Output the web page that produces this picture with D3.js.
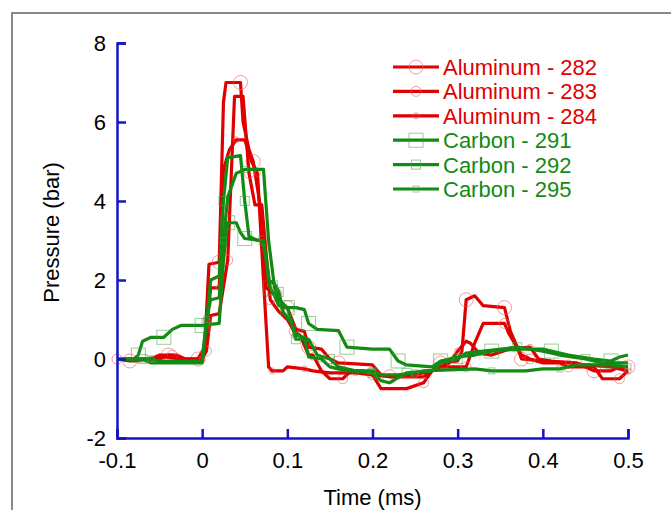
<!DOCTYPE html>
<html>
<head>
<meta charset="utf-8">
<script src="https://cdn.jsdelivr.net/npm/d3@7"></script>
<style>
  body { margin: 0; background: #fff; }
  svg { display: block; font-family: 'Liberation Sans', Arial, sans-serif; }
</style>
</head>
<body>
<div id="chart"></div>
<script>
// [time (ms), pressure (bar)]
const al282 = [[-0.1,0],[-0.085,-0.05],[-0.07,0],[-0.05,0],[-0.04,0.1],[-0.03,0.1],[-0.02,0],[-0.005,0],[0.003,0.3],[0.008,2.4],[0.02,2.45],[0.025,6.5],[0.028,7.0],[0.045,7.0],[0.048,6.0],[0.055,5.3],[0.06,5.0],[0.068,3.9],[0.075,1.8],[0.085,1.65],[0.09,1.6],[0.095,1.3],[0.1,1.3],[0.11,0.75],[0.12,0.7],[0.125,0.3],[0.14,0.25],[0.15,0],[0.16,-0.1],[0.2,-0.15],[0.21,-0.4],[0.22,-0.45],[0.26,-0.45],[0.27,-0.3],[0.28,-0.1],[0.3,-0.05],[0.305,0.2],[0.31,1.5],[0.32,1.6],[0.33,1.35],[0.355,1.3],[0.362,0.7],[0.37,0.3],[0.375,0],[0.4,-0.05],[0.44,-0.1],[0.46,-0.3],[0.48,-0.3],[0.49,-0.2],[0.5,-0.2]]
const al283 = [[-0.1,0],[-0.06,0],[-0.05,0.1],[-0.035,0.1],[-0.03,0],[0,0],[0.005,0.2],[0.01,1.1],[0.02,1.15],[0.03,2.5],[0.038,6.65],[0.048,6.65],[0.055,4.7],[0.062,3.9],[0.07,3.9],[0.08,1.5],[0.09,1.2],[0.1,1.0],[0.108,0.7],[0.115,0.6],[0.125,0.1],[0.13,0.1],[0.14,-0.3],[0.15,-0.5],[0.165,-0.5],[0.175,-0.3],[0.19,-0.3],[0.2,-0.4],[0.21,-0.75],[0.24,-0.75],[0.26,-0.6],[0.27,-0.3],[0.28,-0.2],[0.31,-0.2],[0.32,0.4],[0.33,0.9],[0.355,0.9],[0.36,0.65],[0.375,0.1],[0.385,0],[0.4,-0.1],[0.42,-0.1],[0.43,-0.2],[0.46,-0.2],[0.47,-0.5],[0.49,-0.5],[0.5,-0.3]]
const al284 = [[-0.1,0],[-0.08,-0.05],[-0.06,0],[-0.045,0.05],[-0.02,0],[0,0],[0.003,0.3],[0.01,1.8],[0.02,1.8],[0.025,4.8],[0.032,5.3],[0.04,5.55],[0.05,5.55],[0.058,5.0],[0.065,4.7],[0.072,2.0],[0.078,-0.2],[0.082,-0.3],[0.095,-0.3],[0.1,-0.2],[0.12,-0.25],[0.13,-0.3],[0.15,-0.35],[0.18,-0.35],[0.2,-0.4],[0.22,-0.45],[0.25,-0.4],[0.27,-0.3],[0.29,-0.1],[0.3,0.2],[0.31,0.45],[0.315,0.4],[0.325,0.15],[0.34,0.1],[0.36,0.25],[0.385,0.3],[0.395,0],[0.41,-0.05],[0.43,-0.1],[0.45,-0.15],[0.48,-0.2],[0.5,-0.3]]
const c291 = [[-0.1,0],[-0.08,0],[-0.075,0.1],[-0.07,0.45],[-0.06,0.55],[-0.045,0.55],[-0.035,0.75],[-0.025,0.85],[0,0.85],[0.02,0.9],[0.025,2.5],[0.03,3.45],[0.04,3.45],[0.045,3.2],[0.05,3.05],[0.07,3.0],[0.075,2.6],[0.08,1.8],[0.085,1.6],[0.09,1.35],[0.1,1.3],[0.11,1.3],[0.12,1.25],[0.125,0.9],[0.135,0.75],[0.16,0.72],[0.17,0.3],[0.2,0.25],[0.22,0.25],[0.23,-0.05],[0.24,-0.15],[0.27,-0.2],[0.28,-0.05],[0.3,0.05],[0.32,0.1],[0.34,0.2],[0.37,0.25],[0.4,0.25],[0.41,0.2],[0.43,0.1],[0.46,0],[0.48,-0.05],[0.49,0.05],[0.5,0.1]]
const c292 = [[-0.1,0],[-0.07,0],[-0.06,-0.1],[0,-0.1],[0.005,0.9],[0.01,2.0],[0.02,2.1],[0.025,4.0],[0.03,5.1],[0.045,5.15],[0.05,4.0],[0.055,3.1],[0.065,3.0],[0.072,3.0],[0.078,2.0],[0.085,1.9],[0.09,1.7],[0.095,1.2],[0.105,0.9],[0.11,0.5],[0.125,0.5],[0.135,0.1],[0.15,0],[0.16,-0.2],[0.18,-0.3],[0.2,-0.35],[0.21,-0.55],[0.22,-0.6],[0.24,-0.35],[0.27,-0.3],[0.28,-0.1],[0.3,0],[0.31,0.15],[0.33,0.2],[0.37,0.3],[0.4,0.2],[0.42,0.1],[0.45,0],[0.47,-0.1],[0.5,-0.1]]
const c295 = [[-0.1,0],[-0.06,0],[-0.05,-0.05],[0,-0.05],[0.005,1.0],[0.01,1.5],[0.02,1.55],[0.025,3.0],[0.03,4.1],[0.04,4.7],[0.05,4.8],[0.072,4.8],[0.078,3.0],[0.085,1.8],[0.09,1.5],[0.1,1.3],[0.11,0.6],[0.12,0.55],[0.125,0.05],[0.14,0],[0.15,-0.2],[0.17,-0.3],[0.2,-0.3],[0.21,-0.4],[0.23,-0.4],[0.25,-0.35],[0.26,-0.3],[0.32,-0.25],[0.34,-0.3],[0.38,-0.3],[0.4,-0.25],[0.42,-0.25],[0.44,-0.15],[0.48,-0.15],[0.5,-0.2]]

const seriesNames = ['Aluminum - 282', 'Aluminum - 283', 'Aluminum - 284', 'Carbon - 291', 'Carbon - 292', 'Carbon - 295']
const seriesData = [al282, al283, al284, c291, c292, c295]
const xTicks = [-0.1, 0, 0.1, 0.2, 0.3, 0.4, 0.5]
const yTicks = [-2, 0, 2, 4, 6, 8]

;(function () {
  const svgWidth = 671
  const svgHeight = 510
  const margin = { top: 43, right: 43, bottom: 72, left: 117 }
  const width = svgWidth - margin.left - margin.right
  const height = svgHeight - margin.top - margin.bottom
  const fontSize = '22px'

  const red = '#e00000'
  const green = '#138a13'
  const axisColor = '#1414c8'

  // marker per series: shape + size
  const markers = [
    { shape: 'circle', size: 7, line: red, mark: 'rgba(235,90,90,0.6)', start: 1 },
    { shape: 'circle', size: 5, line: red, mark: 'rgba(235,90,90,0.6)', start: 3 },
    { shape: 'circle', size: 3, line: red, mark: 'rgba(235,90,90,0.6)', start: 2 },
    { shape: 'square', size: 14, line: green, mark: 'rgba(70,160,70,0.55)', start: 2 },
    { shape: 'square', size: 9, line: green, mark: 'rgba(70,160,70,0.55)', start: 4 },
    { shape: 'square', size: 6, line: green, mark: 'rgba(70,160,70,0.55)', start: 1 },
  ]

  // keep the plain hyphen the original uses for negatives
  const tickFmt = d => String(d)

  const svg = d3
    .select('#chart')
    .append('svg')
    .attr('width', svgWidth)
    .attr('height', svgHeight)

  // outer frame (top + left edge of the original figure box)
  svg
    .append('path')
    .attr('d', `M12,${svgHeight} V13 H${svgWidth}`)
    .attr('fill', 'none')
    .attr('stroke', '#8a8a8a')
    .attr('stroke-width', 2)

  const x = d3.scaleLinear().domain([-0.1, 0.5]).range([0, width])
  const y = d3.scaleLinear().domain([-2, 8]).range([height, 0])

  const g = svg
    .append('g')
    .attr('transform', `translate(${margin.left}, ${margin.top})`)

  const line = d3
    .line()
    .x(d => x(d[0]))
    .y(d => y(d[1]))

  seriesData.forEach((data, i) => {
    const m = markers[i]
    g.append('path')
      .datum(data)
      .attr('d', line)
      .attr('fill', 'none')
      .attr('stroke', m.line)
      .attr('stroke-width', 3.2)
      .attr('stroke-linejoin', 'round')

    const pts = data.filter((d, k) => k % 3 === m.start % 3)
    drawMarkers(g, pts.map(d => [x(d[0]), y(d[1])]), m)
  })

  function drawMarkers(sel, pts, m) {
    if (m.shape === 'circle') {
      sel
        .append('g')
        .selectAll('circle')
        .data(pts)
        .join('circle')
        .attr('cx', d => d[0])
        .attr('cy', d => d[1])
        .attr('r', m.size)
        .attr('fill', 'none')
        .attr('stroke', m.mark)
        .attr('stroke-width', 1)
    } else {
      sel
        .append('g')
        .selectAll('rect')
        .data(pts)
        .join('rect')
        .attr('x', d => d[0] - m.size / 2)
        .attr('y', d => d[1] - m.size / 2)
        .attr('width', m.size)
        .attr('height', m.size)
        .attr('fill', 'none')
        .attr('stroke', m.mark)
        .attr('stroke-width', 1)
    }
  }

  // axes
  const xAxis = g
    .append('g')
    .attr('transform', `translate(0, ${height})`)
    .call(d3.axisBottom(x).tickValues(xTicks).tickSize(-9).tickPadding(14).tickFormat(tickFmt))
  const yAxis = g
    .append('g')
    .call(d3.axisLeft(y).tickValues(yTicks).tickSize(-9).tickPadding(11).tickFormat(tickFmt))

  ;[xAxis, yAxis].forEach(a => {
    a.select('.domain').attr('stroke', axisColor).attr('stroke-width', 2.5)
    a.selectAll('.tick line').attr('stroke', axisColor).attr('stroke-width', 2.5)
    a.selectAll('.tick text')
      .attr('fill', '#000')
      .style('font-size', fontSize)
      .style('font-family', "'Liberation Sans', Arial, sans-serif")
  })
  xAxis.selectAll('.tick text').attr('dy', '0.71em')

  g.append('text')
    .attr('x', width / 2)
    .attr('y', height + 67)
    .attr('text-anchor', 'middle')
    .style('font-size', fontSize)
    .text('Time (ms)')

  g.append('text')
    .attr('transform', `translate(${-58}, ${height / 2 - 8}) rotate(-90)`)
    .attr('text-anchor', 'middle')
    .style('font-size', fontSize)
    .text('Pressure (bar)')

  // legend
  const legend = svg.append('g').attr('transform', 'translate(393, 67)')
  seriesNames.forEach((name, i) => {
    const m = markers[i]
    const row = legend.append('g').attr('transform', `translate(0, ${i * 24.4})`)
    row.append('line')
      .attr('x1', 0).attr('x2', 46)
      .attr('stroke', m.line).attr('stroke-width', 3.2)
    drawMarkers(row, [[23, 0]], m)
    row.append('text')
      .attr('x', 50)
      .attr('dy', '0.36em')
      .attr('fill', m.line)
      .style('font-size', fontSize)
      .text(name)
  })
})()
</script>
</body>
</html>
